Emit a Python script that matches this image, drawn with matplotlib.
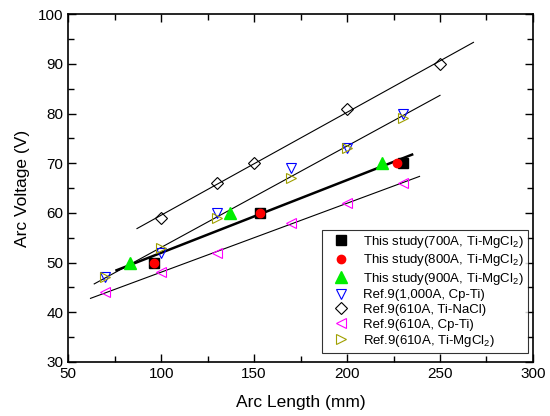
import numpy as np
import matplotlib
matplotlib.use("Agg")
import matplotlib.pyplot as plt
from matplotlib.ticker import MultipleLocator

plt.rcParams['font.family'] = ['Liberation Sans', 'DejaVu Sans']
plt.rcParams['mathtext.fontset'] = 'custom'
plt.rcParams['mathtext.rm'] = 'Liberation Sans'
plt.rcParams['mathtext.it'] = 'Liberation Sans'

# this study
x700 = [96, 153, 230]
y700 = [50, 60, 70]
x800 = [96, 153, 227]
y800 = [50, 60, 70]
x900 = [83, 137, 219]
y900 = [50, 60, 70]

# Ref.9 data
x1000 = [70, 100, 130, 170, 200, 230]
y1000 = [47, 52, 60, 69, 73, 80]
xnacl = [100, 130, 150, 200, 250]
ynacl = [59, 66, 70, 81, 90]
xcp = [70, 100, 130, 170, 200, 230]
ycp = [44, 48, 52, 58, 62, 66]
xmg = [70, 100, 130, 170, 200, 230]
ymg = [47, 53, 59, 67, 73, 79]

# x-range of each fitted line
fit_study = [76, 235]
fit_nacl = [87, 268]
fit_mg = [64, 250]
fit_cp = [62, 239]


def fit_line(ax, xs, ys, xr, lw):
    k, b = np.polyfit(xs, ys, 1)
    xr = np.array(xr)
    ax.plot(xr, k * xr + b, color='black', lw=lw, zorder=1)


fig = plt.figure(figsize=(5.5, 4.16), dpi=100)
ax = fig.add_axes([0.124, 0.130, 0.845, 0.836])

fit_line(ax, xnacl, ynacl, fit_nacl, 0.8)
fit_line(ax, xmg + x1000, ymg + y1000, fit_mg, 0.8)
fit_line(ax, xcp, ycp, fit_cp, 0.8)
fit_line(ax, x700 + x800 + x900, y700 + y800 + y900, fit_study, 1.8)

sub = 'Ti-MgCl$_2$'
ax.plot(x700, y700, 's', color='black', ms=7.5, ls='none', label='This study(700A, ' + sub + ')')
ax.plot(x800, y800, 'o', color='red', ms=6, ls='none', label='This study(800A, ' + sub + ')')
ax.plot(x900, y900, '^', color='#00ee00', ms=9, ls='none', label='This study(900A, ' + sub + ')')
ax.plot(x1000, y1000, 'v', mfc='none', mec='blue', ms=7, mew=0.8, ls='none', label='Ref.9(1,000A, Cp-Ti)')
ax.plot(xnacl, ynacl, 'D', mfc='none', mec='black', ms=6, mew=0.8, ls='none', label='Ref.9(610A, Ti-NaCl)')
ax.plot(xcp, ycp, '<', mfc='none', mec='magenta', ms=7, mew=0.8, ls='none', label='Ref.9(610A, Cp-Ti)')
ax.plot(xmg, ymg, '>', mfc='none', mec='#a0a000', ms=7, mew=0.8, ls='none', label='Ref.9(610A, ' + sub + ')')

ax.set_xlim(50, 300)
ax.set_ylim(30, 100)
ax.xaxis.set_major_locator(MultipleLocator(50))
ax.xaxis.set_minor_locator(MultipleLocator(25))
ax.yaxis.set_major_locator(MultipleLocator(10))
ax.yaxis.set_minor_locator(MultipleLocator(5))
ax.tick_params(which='both', direction='in', top=True, right=True, labelsize=11, width=1)
ax.tick_params(which='major', length=6)
ax.tick_params(which='minor', length=4)
for s in ax.spines.values():
    s.set_linewidth(1.2)

ax.set_xlabel('Arc Length (mm)', fontsize=12.5, labelpad=10)
ax.set_ylabel('Arc Voltage (V)', fontsize=12.5, labelpad=6)

leg = ax.legend(loc='lower right', bbox_to_anchor=(0.989, 0.026), borderaxespad=0,
                fontsize=9.5, frameon=True, fancybox=False, edgecolor='black',
                handletextpad=0.6, handlelength=2.2, labelspacing=0.18, borderpad=0.3)
leg.get_frame().set_linewidth(0.8)

fig.savefig('out.png', dpi=100)
